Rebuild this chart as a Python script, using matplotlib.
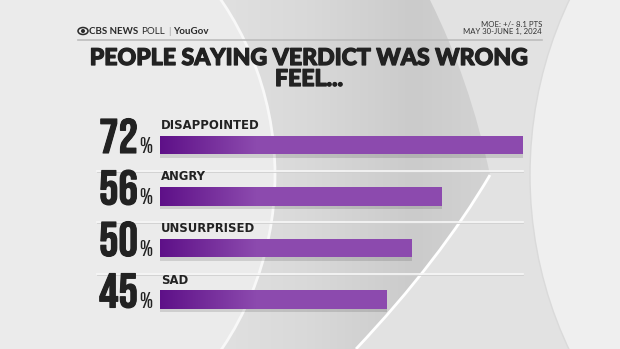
import matplotlib
matplotlib.use('Agg')
import matplotlib.pyplot as plt
import matplotlib.patheffects as pe
import numpy as np
from matplotlib import font_manager
from matplotlib.patches import Ellipse, Circle, PathPatch
from matplotlib.path import Path

categories = ['DISAPPOINTED', 'ANGRY', 'UNSURPRISED', 'SAD']
values = [72, 56, 50, 45]
title = 'PEOPLE SAYING VERDICT WAS WRONG\nFEEL...'
moe_text = 'MOE: +/- 8.1 PTS\nMAY 30-JUNE 1, 2024'


def pick_font(names):
    for n in names:
        try:
            font_manager.findfont(font_manager.FontProperties(family=n), fallback_to_default=False)
            return n
        except Exception:
            pass
    return 'DejaVu Sans'


def find_condensed():
    for f in font_manager.fontManager.ttflist:
        if any(k in f.name for k in ('Oswald', 'Bebas', 'Compressed')):
            return f.name
    return pick_font(['Liberation Sans Narrow', 'Roboto Condensed', 'DejaVu Sans Condensed',
                      'Liberation Sans'])


narrow = find_condensed()
sans = pick_font(['Lato', 'Montserrat', 'Open Sans', 'DejaVu Sans'])

W, H = 620, 349
fig = plt.figure(figsize=(W / 100, H / 100), dpi=100)
fig.patch.set_facecolor('#d6d6d6')
renderer = fig.canvas.get_renderer()

# background swoosh
bg = fig.add_axes([0, 0, 1, 1])
bg.set_xlim(0, W)
bg.set_ylim(H, 0)
bg.axis('off')
shade = matplotlib.colors.LinearSegmentedColormap.from_list(
    'g', ['#e2e2e2', '#d9d9d9', '#cbcbcb', '#d6d6d6'])
bg.imshow(np.linspace(0, 1, 256).reshape(1, -1), cmap=shade, aspect='auto',
          extent=(200, 520, H, 0), zorder=0)
bg.add_patch(Circle((-36, 175), 311, facecolor='#ebebeb', edgecolor='#f8f8f8', lw=2, zorder=1))
chev = Path([(430, 0), (470, 80), (490, 175), (440, 260), (356, 349), (620, 349), (620, 0), (430, 0)],
            [Path.MOVETO, Path.CURVE3, Path.CURVE3, Path.CURVE3, Path.CURVE3,
             Path.LINETO, Path.LINETO, Path.CLOSEPOLY])
bg.add_patch(PathPatch(chev, facecolor='#e2e2e2', edgecolor='none', zorder=1))
edge = Path([(490, 175), (440, 260), (356, 349)], [Path.MOVETO, Path.CURVE3, Path.CURVE3])
bg.add_patch(PathPatch(edge, facecolor='none', edgecolor='white', lw=2, zorder=2))
bg.add_patch(Ellipse((880, 175), 700, 760, facecolor='#efefef', edgecolor='#dadada', lw=1, zorder=2))


def fit_text(t, width_px):
    t.set_fontsize(t.get_fontsize() * width_px / t.get_window_extent(renderer).width)


# header
bg.add_patch(Ellipse((83, 31), 10, 7, facecolor='none', edgecolor='#2a2a2a', lw=1.1, zorder=3))
bg.add_patch(Circle((83, 31), 2, facecolor='#2a2a2a', edgecolor='none', zorder=3))
x = 89
for s, w, c, gap in [('CBS NEWS', 'bold', '#2a2a2a', 3), ('POLL', 'normal', '#2a2a2a', 3),
                     ('|', 'normal', '#999999', 3), ('YouGov', 'bold', '#2a2a2a', 0)]:
    t = bg.text(x, 31, s, fontsize=7.0, fontweight=w, family=sans, color=c, va='center')
    x += t.get_window_extent(renderer).width + gap
bg.text(542, 28, moe_text, fontsize=5.6, family=sans, color='#333333', ha='right', va='center',
        linespacing=1.05)
bg.plot([78, 542], [40, 40], color='#bdbdbd', lw=1.2, zorder=3)
tt = bg.text(309, 69, title, fontsize=16, fontweight='black', family=sans, color='#222222',
             ha='center', va='center', linespacing=1.0,
             path_effects=[pe.withStroke(linewidth=0.9, foreground='#222222')])
fit_text(tt, 439)

# bars
ax = fig.add_axes([160 / W, (H - 325.25) / H, 403 / W, 206 / H])
ax.set_facecolor('none')
ax.set_xlim(0, 80)
ax.set_ylim(3.5, -0.5)
ax.axis('off')

bar_h = 0.35
ypos = np.arange(len(values))
ax.barh(ypos + 0.07, values, height=bar_h, color='#000000', alpha=0.12, zorder=1)
bars = ax.barh(ypos, values, height=bar_h, color='#8c4aae', edgecolor='none', zorder=2)
grad = np.linspace(0, 1, 256).reshape(1, -1)
cmap = matplotlib.colors.LinearSegmentedColormap.from_list('p', ['#5e1088', '#8c4aae'])
for b, y in zip(bars, ypos):
    im = ax.imshow(grad, cmap=cmap, aspect='auto', extent=(0, 19, y + bar_h / 2, y - bar_h / 2),
                   zorder=3)
    im.set_clip_path(b)

for y in ypos[:-1] + 0.5:
    ax.plot([-12.5, 72], [y, y], color='#f7f7f7', lw=1.2, clip_on=False, zorder=0)
    ax.plot([-12.5, 72], [y + 0.02, y + 0.02], color='#cfcfcf', lw=0.6, clip_on=False, zorder=0)

for y, cat, v in zip(ypos, categories, values):
    ax.annotate(cat, xy=(0, y), xytext=(1, 16), textcoords='offset pixels', fontsize=8.4,
                fontweight='bold', family='DejaVu Sans', color='#222222', ha='left',
                va='baseline')
    ax.annotate(str(v), xy=(0, y), xytext=(-22, -8), textcoords='offset pixels', fontsize=35,
                fontweight='bold', family=narrow, color='#222222', ha='right', va='baseline',
                path_effects=[pe.withStroke(linewidth=0.8, foreground='#222222')])
    ax.annotate('%', xy=(0, y), xytext=(-21, -8), textcoords='offset pixels', fontsize=16,
                fontweight='bold', family=narrow, color='#222222', ha='left', va='baseline')

fig.savefig('out.png', dpi=100, facecolor=fig.get_facecolor())
